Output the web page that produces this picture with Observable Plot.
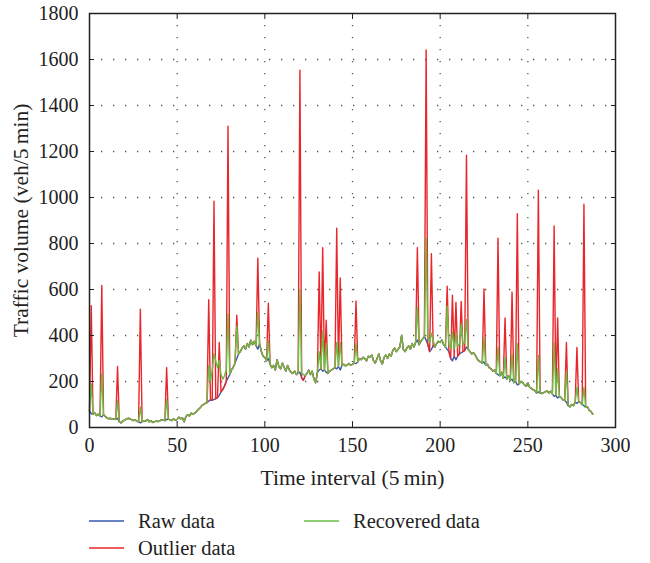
<!DOCTYPE html>
<html><head><meta charset="utf-8">
<script src="https://cdn.jsdelivr.net/npm/d3@7"></script>
<script src="https://cdn.jsdelivr.net/npm/@observablehq/plot@0.6"></script>
<style>
body{margin:0;background:#fff;font-family:"Liberation Serif",serif;}
#wrap{position:relative;width:650px;height:563px;overflow:hidden;}
.leg{position:absolute;font-size:20.5px;line-height:26px;color:#222;display:flex;align-items:center;white-space:nowrap;}
.leg svg{margin-right:14px;display:block;}
</style></head><body><div id="wrap"><div id="chart"></div><div id="legend"></div></div>
<script>
const rawData = [
72,60,58,64,52,58,50,46,55,48,
42,38,40,36,38,35,40,25,20,28,
32,36,40,38,34,30,33,28,25,20,
25,30,28,35,25,30,22,24,28,26,
28,34,32,30,35,36,33,30,38,32,
35,45,38,42,25,48,55,50,62,58,
62,70,78,85,95,100,105,108,115,120,
118,122,125,130,140,155,165,180,200,215,
230,250,262,280,300,320,330,345,355,340,
365,350,380,360,375,355,340,365,330,310,
305,290,300,275,260,270,250,295,265,255,
280,262,245,270,250,240,235,245,230,238,
240,215,205,225,235,250,230,245,210,195,
240,250,255,245,250,240,235,245,250,255,
260,255,265,250,270,275,268,272,278,270,
275,280,278,285,300,295,305,300,290,310,
305,315,290,280,300,320,290,275,305,315,
300,320,310,335,345,330,340,350,400,340,
330,345,355,340,365,350,370,380,360,375,
385,395,380,360,330,340,355,350,365,375,
370,380,360,350,340,330,300,290,310,295,
310,320,325,330,335,350,340,330,320,325,
315,300,290,285,280,285,270,275,260,255,
245,250,235,230,225,240,215,220,210,225,
205,210,195,200,185,190,200,195,185,180,
195,175,170,165,160,150,155,150,148,152,
155,160,150,158,145,135,140,128,135,130,
120,118,110,95,90,100,95,110,105,112,
108,100,95,88,90,75,70,58
];
const outlierIdx = [1,7,16,29,44,68,71,74,79,84,96,102,120,131,133,135,141,143,152,187,192,195,204,207,209,212,215,225,233,237,241,244,256,265,267,272,278,282];
const outlierVal = [530,618,265,514,260,556,984,370,1310,488,736,540,1554,676,782,466,866,650,550,782,1641,756,614,575,544,548,1184,602,823,476,588,930,1032,876,476,370,348,971];
const recoveredIdx = [1,7,16,29,44,68,71,74,79,84,96,102,120,131,133,135,141,143,152,187,192,195,204,207,209,212,215,225,233,237,241,244,256,265,267,272,278,282,
  69,70,72,73,75,76,77,78,121,122,193,194,196,205,206,208,210,211,213,214];
const recoveredVal = [190,234,117,88,122,270,322,292,495,440,500,380,600,330,420,365,370,370,365,523,824,410,527,415,410,450,470,390,350,305,320,365,313,370,255,245,175,175,
  200,250,290,260,230,210,225,250,235,230,390,370,380,360,345,340,350,365,360,370];
const seriesNames = ["Raw data","Outlier data","Recovered data"];
const seriesColors = ["#3557b0","#e8262b","#6cbb45"];
const xTicks = [0,50,100,150,200,250,300];
const yTicks = [0,200,400,600,800,1000,1200,1400,1600,1800];
const xGrid = [50,100,150,200,250];
const yGrid = [200,400,600,800,1000,1200,1400,1600];
const xTitle = "Time interval (5\u2009min)";
const yTitle = "Traffic volume (veh/5\u2009min)";

const outlierData = rawData.slice();
outlierIdx.forEach((k,j)=>{ outlierData[k] = outlierVal[j]; });
const recoveredData = rawData.slice();
recoveredIdx.forEach((k,j)=>{ recoveredData[k] = recoveredVal[j]; });
const table = [rawData, outlierData, recoveredData].map((arr,si)=>arr.map((v,i)=>({t:i, v, s:seriesNames[si]})));

const none = ()=>"";
const chart = Plot.plot({
  width:650, height:500, marginLeft:89, marginRight:35, marginTop:13, marginBottom:73,
  style:{fontFamily:"'Liberation Serif', serif", fontSize:"20px", color:"#222", background:"#fff"},
  x:{domain:[0,300]},
  y:{domain:[0,1800]},
  color:{domain:seriesNames, range:seriesColors},
  marks:[
    Plot.gridX(xGrid,{stroke:"#555", strokeOpacity:1, strokeWidth:1.3, strokeDasharray:"1.3,10.7"}),
    Plot.gridY(yGrid,{stroke:"#555", strokeOpacity:1, strokeWidth:1.3, strokeDasharray:"1.3,10.7"}),
    ...table.map(rows=>Plot.lineY(rows,{x:"t", y:"v", stroke:"s", strokeWidth:1.4})),
    Plot.frame({stroke:"#222", strokeWidth:1.5}),
    Plot.axisX(xTicks,{anchor:"bottom", tickSize:0, tickPadding:10, tickFormat:"d", label:null, fontSize:20}),
    Plot.axisX(xTicks,{anchor:"bottom", tickSize:0, tickFormat:none, label:xTitle, labelAnchor:"center", labelArrow:"none", labelOffset:57, fontSize:21.5}),
    Plot.axisX(xTicks,{anchor:"bottom", tickSize:-5, tickFormat:none, label:null}),
    Plot.axisX(xTicks,{anchor:"top", tickSize:-5, tickFormat:none, label:null}),
    Plot.axisY(yTicks,{anchor:"left", tickSize:0, tickPadding:11, tickFormat:"d", label:null, fontSize:20}),
    Plot.axisY(yTicks,{anchor:"left", tickSize:0, tickFormat:none, label:yTitle, labelAnchor:"center", labelArrow:"none", labelOffset:77, fontSize:21.5}),
    Plot.axisY(yTicks,{anchor:"left", tickSize:-5, tickFormat:none, label:null}),
    Plot.axisY(yTicks,{anchor:"right", tickSize:-5, tickFormat:none, label:null})
  ]
});
document.getElementById("chart").appendChild(chart);

const legPos = [{left:89, top:508},{left:89, top:535},{left:304, top:508}];
const legend = document.getElementById("legend");
seriesNames.forEach((name,i)=>{
  const d = document.createElement("div");
  d.className = "leg";
  d.style.left = legPos[i].left + "px";
  d.style.top = legPos[i].top + "px";
  d.innerHTML = `<svg width="35" height="4"><line x1="0" x2="35" y1="2" y2="2" stroke="${seriesColors[i]}" stroke-width="1.5"/></svg>`;
  d.appendChild(document.createTextNode(name));
  legend.appendChild(d);
});
</script>
</body></html>
